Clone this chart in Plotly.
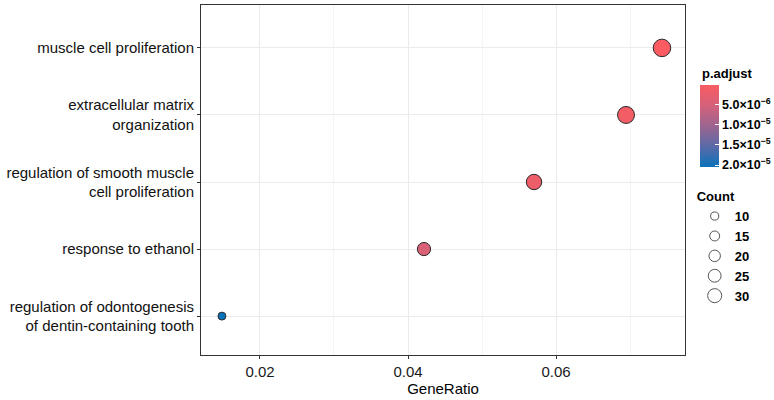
import plotly.graph_objects as go

terms = [
    "regulation of odontogenesis<br>of dentin-containing tooth",
    "response to ethanol",
    "regulation of smooth muscle<br>cell proliferation",
    "extracellular matrix<br>organization",
    "muscle cell proliferation",
]
gene_ratio = [0.01486, 0.04216, 0.05703, 0.06946, 0.07432]
counts = [6, 17, 23, 28, 30]
p_adjust = [2.05e-5, 4.6e-6, 1.8e-6, 1.1e-6, 1.5e-7]

cbar_vals = [5e-6, 1e-5, 1.5e-5, 2e-5]
cbar_text = ["5.0×10<sup>−6</sup>", "1.0×10<sup>−5</sup>", "1.5×10<sup>−5</sup>", "2.0×10<sup>−5</sup>"]
legend_counts = [10, 15, 20, 25, 30]

x_ticks = [0.02, 0.04, 0.06]


def diam(c, k=1.0):
    return k * (2.0 + 10.2 * c) ** 0.5


colorscale = [
    [0.0, "#0A72BA"],
    [0.25, "#5A6AA8"],
    [0.5, "#9C6590"],
    [0.75, "#D4617A"],
    [1.0, "#FA5C62"],
]

FONT = "Liberation Sans, Arial, sans-serif"

fig = go.Figure()
fig.add_trace(go.Scatter(
    x=gene_ratio, y=terms, mode="markers",
    marker=dict(
        size=[diam(c) for c in counts],
        color=[-p for p in p_adjust],
        colorscale=colorscale,
        cmin=-max(p_adjust), cmax=-min(p_adjust),
        opacity=1,
        line=dict(color="#2a2a2a", width=1),
        colorbar=dict(
            tickvals=[-v for v in cbar_vals], ticktext=["<b>%s</b>" % t for t in cbar_text],
            tickfont=dict(size=12.5, color="black"),
            ticks="inside", ticklen=4, tickcolor="white",
            outlinewidth=0, thickness=19,
            lenmode="pixels", len=82,
            x=1.0305, xanchor="left", y=0.654, yanchor="middle",
            xpad=0, ypad=0,
        ),
        showscale=True,
    ),
    showlegend=False,
    hovertemplate="%{x}<extra></extra>",
))

for c in legend_counts:
    fig.add_trace(go.Scatter(
        x=[None], y=[None], mode="markers",
        marker=dict(size=diam(c, 0.8), color="white", line=dict(color="#555555", width=1)),
        name="<b>%d</b>" % c, showlegend=True,
    ))

fig.add_annotation(
    text="<b>p.adjust</b>", xref="paper", yref="paper",
    x=1.0305, xanchor="left", y=(355 - 73) / 350, yanchor="middle",
    showarrow=False, font=dict(size=13, color="black"),
)

fig.update_layout(
    width=774, height=400,
    margin=dict(l=201, r=89, t=5, b=45, autoexpand=False),
    paper_bgcolor="white", plot_bgcolor="white",
    font=dict(family=FONT, color="black"),
    legend=dict(
        title=dict(text="<b>Count</b>", font=dict(size=13, color="black")),
        font=dict(size=13, color="black"),
        x=1.02, xanchor="left", y=0.488, yanchor="top",
        tracegroupgap=0, itemsizing="trace",
        bgcolor="rgba(0,0,0,0)",
    ),
    xaxis=dict(
        range=[0.01203, 0.07743],
        tickvals=x_ticks, ticktext=["%.2f" % v for v in x_ticks],
        tickfont=dict(size=15, color="#1a1a1a"),
        title=dict(text="GeneRatio", font=dict(size=15, color="black"), standoff=3),
        showgrid=True, gridcolor="#EBEBEB", gridwidth=1,
        minor=dict(dtick=0.01, showgrid=True, gridcolor="#F4F4F4", gridwidth=0.6, tick0=0.01),
        ticks="outside", ticklen=3, tickcolor="#333333",
        showline=True, linecolor="#333333", linewidth=1, mirror=True,
        zeroline=False,
    ),
    yaxis=dict(
        type="category", categoryorder="array", categoryarray=terms,
        range=[-0.58, 4.64],
        tickfont=dict(size=15, color="#111111"),
        showgrid=True, gridcolor="#EBEBEB", gridwidth=1,
        ticks="outside", ticklen=3, tickcolor="#333333",
        showline=True, linecolor="#333333", linewidth=1, mirror=True,
        zeroline=False,
    ),
)

fig.write_html("out.html")
